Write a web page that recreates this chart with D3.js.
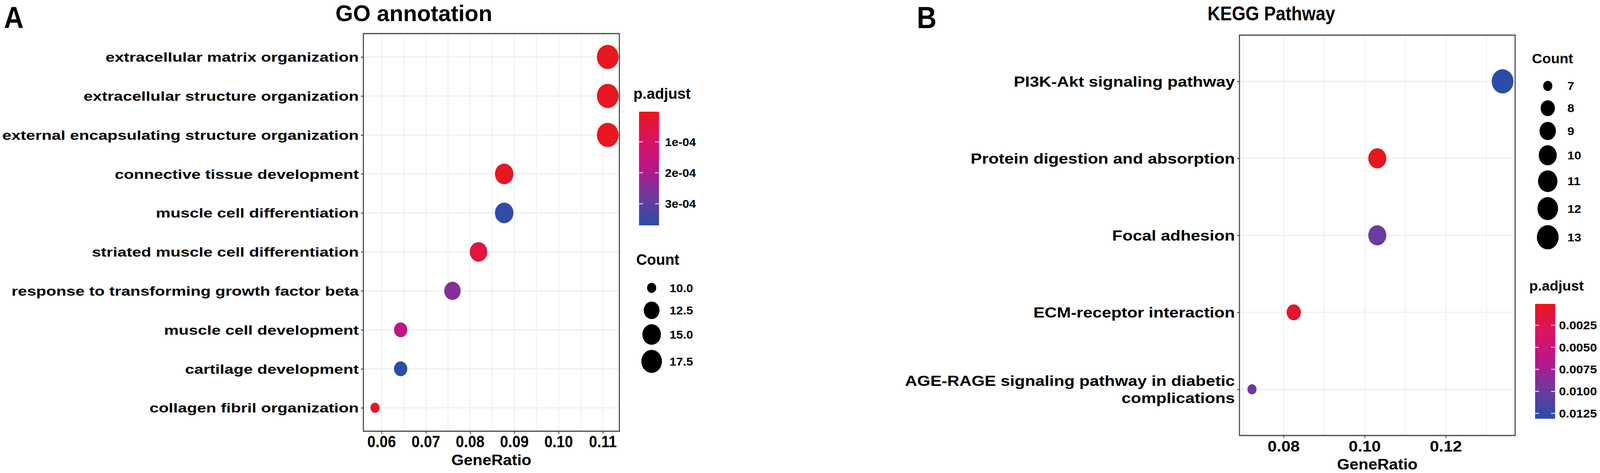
<html>

<head>
    <script src="https://cdn.jsdelivr.net/npm/d3@7"></script>
    <style>
        html,
        body {
            margin: 0;
            padding: 0;
            overflow: hidden;
            background: #fff;
        }

        svg {
            display: block;
        }

        svg text {
            font-family: "Liberation Sans", Arial, Helvetica, sans-serif;
            font-weight: bold;
            fill: #000;
        }
    </style>
</head>

<body>
    <script>
        // ---- GO annotation data ----
        var goTerms = [
            'extracellular matrix organization',
            'extracellular structure organization',
            'external encapsulating structure organization',
            'connective tissue development',
            'muscle cell differentiation',
            'striated muscle cell differentiation',
            'response to transforming growth factor beta',
            'muscle cell development',
            'cartilage development',
            'collagen fibril organization'
        ];
        var goRatio = [0.1111, 0.1111, 0.1111, 0.0877, 0.0877, 0.0819, 0.0760, 0.0643, 0.0643, 0.0585];
        var goCount = [19, 19, 19, 15, 15, 14, 13, 11, 11, 10];
        var goPadj = [2.6e-6, 3.0e-6, 3.4e-6, 1.2e-5, 3.6e-4, 4.5e-5, 2.5e-4, 1.7e-4, 3.7e-4, 1.5e-5];
        var goXTicks = [0.06, 0.07, 0.08, 0.09, 0.10, 0.11];
        var goPTicks = [1e-4, 2e-4, 3e-4];
        var goPLabels = ['1e-04', '2e-04', '3e-04'];
        var goCountBreaks = [10, 12.5, 15, 17.5];

        // ---- KEGG data ----
        var keggTerms = [
            'PI3K-Akt signaling pathway',
            'Protein digestion and absorption',
            'Focal adhesion',
            'ECM-receptor interaction',
            'AGE-RAGE signaling pathway in diabetic complications'
        ];
        var keggRatio = [0.1340, 0.1031, 0.1031, 0.0825, 0.0722];
        var keggCount = [13, 10, 10, 8, 7];
        var keggPadj = [0.0131, 0.00007, 0.0101, 0.0009, 0.0100];
        var keggXTicks = [0.08, 0.10, 0.12];
        var keggPTicks = [0.0025, 0.0050, 0.0075, 0.0100, 0.0125];
        var keggCountBreaks = [7, 8, 9, 10, 11, 12, 13];

        var W = 4562, H = 1211;
        // red -> magenta -> purple -> blue, as printed
        var ramp = d3.piecewise(d3.interpolateRgb, ['#e8161e', '#d91462', '#b8168a', '#6e3a9c', '#2a4ea6']);

        // the drawing always fills the whole window
        var svg = d3.select('body')
            .append('svg')
            .attr('viewBox', '0 0 ' + W + ' ' + H)
            .attr('preserveAspectRatio', 'none')
            .style('width', '100vw')
            .style('height', '100vh');

        svg.append('rect').attr('width', W).attr('height', H).attr('fill', '#fff');

        var defs = svg.append('defs');

        // text that is stretched horizontally like in the figure
        function txt(g, s, x, y, size, sx, anchor) {
            return g.append('text')
                .attr('transform', 'translate(' + x + ',' + y + ') scale(' + sx + ',1)')
                .attr('font-size', size)
                .attr('text-anchor', anchor || 'start')
                .text(s);
        }

        function dotPlot(cfg) {
            var g = svg.append('g');
            var rows = cfg.terms.map((t, i) => ({
                term: t, ratio: cfg.ratio[i], count: cfg.count[i], padj: cfg.padj[i]
            }));

            // x domain: data range expanded by 5% like ggplot
            var ext = d3.extent(cfg.ratio);
            var pad = (ext[1] - ext[0]) * 0.05;
            var x = d3.scaleLinear().domain([ext[0] - pad, ext[1] + pad]).range([cfg.x0, cfg.x1]);
            var y = d3.scalePoint().domain(cfg.terms).range([cfg.y0, cfg.y1]).padding(0.6);

            var pDom = d3.extent(cfg.padj);
            var pT = d3.scaleLinear().domain(pDom).range([0, 1]);
            var color = (p) => ramp(pT(p));

            var cext = d3.extent(cfg.count);
            var t01 = d3.scaleLinear().domain(cext).range([0, 1]);
            var diam = d3.scaleLinear().domain([0, 1]).range([26, 62]);
            var size = (c) => diam(Math.sqrt(t01(c)));

            // grid
            var minor = d3.range(Math.ceil(x.domain()[0] / cfg.minorStep), Math.floor(x.domain()[1] / cfg.minorStep) + 1)
                .map(k => k * cfg.minorStep);
            g.selectAll('.vgrid').data(minor).enter().append('line')
                .attr('x1', d => x(d)).attr('x2', d => x(d))
                .attr('y1', cfg.y0).attr('y2', cfg.y1)
                .attr('stroke', '#ececec').attr('stroke-width', 2);
            g.selectAll('.hgrid').data(cfg.terms).enter().append('line')
                .attr('x1', cfg.x0).attr('x2', cfg.x1)
                .attr('y1', d => y(d)).attr('y2', d => y(d))
                .attr('stroke', '#ececec').attr('stroke-width', 2.5);

            // points
            g.selectAll('circle.pt').data(rows).enter().append('circle')
                .attr('cx', d => x(d.ratio))
                .attr('cy', d => y(d.term))
                .attr('r', d => size(d.count) / 2)
                .attr('fill', d => color(d.padj));

            // border
            g.append('rect')
                .attr('x', cfg.x0).attr('y', cfg.y0)
                .attr('width', cfg.x1 - cfg.x0).attr('height', cfg.y1 - cfg.y0)
                .attr('fill', 'none').attr('stroke', '#444').attr('stroke-width', 3);

            // y axis
            var ya = g.append('g').attr('transform', 'translate(' + cfg.x0 + ',0)')
                .call(d3.axisLeft(y).tickSize(7).tickFormat(''));
            ya.select('.domain').remove();
            ya.selectAll('line').attr('stroke', '#333').attr('stroke-width', 2);

            rows.forEach(d => {
                var cut = d.term.lastIndexOf(' ');
                var words = cfg.wrap && d.term.length > 40 ? [d.term.slice(0, cut), d.term.slice(cut + 1)] : [d.term];
                words.forEach((w, k) => {
                    var off = (k - (words.length - 1) / 2) * cfg.lineH;
                    txt(g, w, cfg.x0 - 13, y(d.term) + off, cfg.labelSize, cfg.labelSx, 'end')
                        .attr('dy', '0.36em');
                });
            });

            // x axis
            var xa = g.append('g').attr('transform', 'translate(0,' + cfg.y1 + ')')
                .call(d3.axisBottom(x).tickValues(cfg.xTicks).tickSize(7).tickFormat(''));
            xa.select('.domain').remove();
            xa.selectAll('line').attr('stroke', '#333').attr('stroke-width', 2);
            cfg.xTicks.forEach(v => {
                txt(g, d3.format('.2f')(v), x(v), cfg.tickY, cfg.tickSize, cfg.tickSx, 'middle');
            });
            txt(g, 'GeneRatio', (cfg.x0 + cfg.x1) / 2, cfg.axisTitleY, cfg.axisTitleSize, cfg.axisTitleSx, 'middle');

            // title + panel letter
            txt(g, cfg.title, cfg.titleX, cfg.titleY, cfg.titleSize, cfg.titleSx, 'middle');
            txt(g, cfg.letter, cfg.letterX, 72, 78, 1, 'start');

            // colour bar legend
            var pl = cfg.pLeg;
            var gradId = 'grad' + cfg.letter;
            var grad = defs.append('linearGradient').attr('id', gradId)
                .attr('x1', 0).attr('y1', 0).attr('x2', 0).attr('y2', 1);
            d3.range(0, 1.0001, 0.05).forEach(t => {
                grad.append('stop').attr('offset', t).attr('stop-color', ramp(t));
            });
            txt(g, 'p.adjust', pl.titleX, pl.titleY, cfg.legTitleSize, cfg.legTitleSx, 'start');
            var py = d3.scaleLinear().domain(pDom).range([pl.y0, pl.y1]);
            g.append('rect').attr('x', pl.x).attr('y', pl.y0)
                .attr('width', 57).attr('height', pl.y1 - pl.y0)
                .attr('fill', 'url(#' + gradId + ')');
            cfg.pTicks.forEach((v, i) => {
                g.append('line').attr('x1', pl.x).attr('x2', pl.x + 11)
                    .attr('y1', py(v)).attr('y2', py(v)).attr('stroke', '#fff').attr('stroke-width', 2);
                g.append('line').attr('x1', pl.x + 46).attr('x2', pl.x + 57)
                    .attr('y1', py(v)).attr('y2', py(v)).attr('stroke', '#fff').attr('stroke-width', 2);
                txt(g, cfg.pLabels[i], pl.labelX, py(v), cfg.legLabelSize, cfg.legLabelSx, 'start')
                    .attr('dy', '0.36em');
            });

            // size legend
            var cl = cfg.cLeg;
            txt(g, 'Count', cl.titleX, cl.titleY, cfg.legTitleSize, cfg.legTitleSx, 'start');
            var keyH = (c) => Math.max(57, size(c) + 13);
            var cy = cl.y0;
            cfg.countBreaks.forEach((c, i) => {
                if (i > 0) cy += (keyH(cfg.countBreaks[i - 1]) + keyH(c)) / 2;
                g.append('circle').attr('cx', cl.x).attr('cy', cy).attr('r', size(c) / 2).attr('fill', '#000');
                txt(g, cfg.countFmt(c), cl.labelX, cy, cfg.legLabelSize, cfg.legLabelSx, 'start')
                    .attr('dy', '0.36em');
            });
        }

        dotPlot({
            letter: 'A', letterX: 11, title: 'GO annotation', titleX: 1180, titleY: 54, titleSize: 57, titleSx: 1.13,
            terms: goTerms, ratio: goRatio, count: goCount, padj: goPadj,
            x0: 1036, x1: 1766, y0: 86, y1: 1104, minorStep: 0.005,
            labelSize: 34, labelSx: 1.38, wrap: false, lineH: 0,
            xTicks: goXTicks, tickY: 1145, tickSize: 42, tickSx: 1.0,
            axisTitleY: 1191, axisTitleSize: 39, axisTitleSx: 1.17,
            legTitleSize: 38, legTitleSx: 1.12, legLabelSize: 30, legLabelSx: 1.15,
            pTicks: goPTicks, pLabels: goPLabels,
            pLeg: { titleX: 1806, titleY: 253, x: 1822, y0: 286, y1: 577, labelX: 1896 },
            countBreaks: goCountBreaks, countFmt: d3.format('.1f'),
            cLeg: { titleX: 1814, titleY: 678, x: 1858, y0: 737, labelX: 1909 }
        });

        dotPlot({
            letter: 'B', letterX: 2614, title: 'KEGG Pathway', titleX: 3625, titleY: 52, titleSize: 50, titleSx: 1.0,
            terms: keggTerms, ratio: keggRatio, count: keggCount, padj: keggPadj,
            x0: 3534, x1: 4320, y0: 90, y1: 1115, minorStep: 0.01,
            labelSize: 37, labelSx: 1.3, wrap: true, lineH: 44,
            xTicks: keggXTicks, tickY: 1156, tickSize: 38, tickSx: 1.24,
            axisTitleY: 1202, axisTitleSize: 38, axisTitleSx: 1.21,
            legTitleSize: 35, legTitleSx: 1.16, legLabelSize: 29, legLabelSx: 1.22,
            pTicks: keggPTicks, pLabels: keggPTicks.map(d3.format('.4f')),
            pLeg: { titleX: 4360, titleY: 744, x: 4377, y0: 778, y1: 1072, labelX: 4445 },
            countBreaks: keggCountBreaks, countFmt: d3.format('d'),
            cLeg: { titleX: 4368, titleY: 162, x: 4413, y0: 220, labelX: 4469 }
        });
    </script>
</body>

</html>
